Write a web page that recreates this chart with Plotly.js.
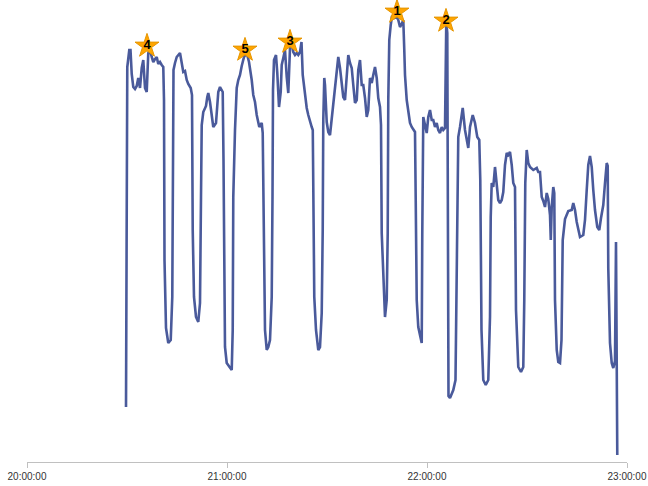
<!DOCTYPE html>
<html>
<head>
<meta charset="utf-8">
<script src="https://cdn.plot.ly/plotly-3.0.1.min.js"></script>
<style>html,body{margin:0;padding:0;background:#fff;}#chart{width:648px;height:486px;}</style>
</head>
<body>
<div id="chart"></div>
<script>
// Series: time of day and measured value
var times = [
"20:29:42","20:29:51","20:30:05","20:30:41","20:31:03","20:31:25","20:31:53","20:32:24","20:32:55","20:33:23",
"20:33:54","20:34:25","20:34:53","20:35:24","20:35:55","20:36:23","20:36:54","20:37:25","20:37:53","20:38:24",
"20:38:55","20:39:23","20:39:54","20:40:25","20:40:53","20:41:06","20:41:15","20:41:42","20:42:23","20:43:07",
"20:43:35","20:43:48","20:43:57","20:44:24","20:44:55","20:45:54","20:46:25","20:46:53","20:47:24","20:47:55",
"20:48:23","20:49:07","20:49:30","20:49:43","20:50:06","20:50:42","20:51:23","20:51:54","20:52:12","20:52:25",
"20:52:53","20:53:42","20:54:05","20:54:23","20:54:54","20:55:25","20:55:53","20:56:42","20:57:23","20:57:54",
"20:58:43","20:58:57","20:59:10","20:59:24","20:59:55","21:00:54","21:01:25","21:01:43","21:01:53","21:02:24",
"21:02:55","21:03:23","21:03:54","21:04:25","21:05:06","21:05:55","21:06:36","21:07:25","21:07:53","21:08:24",
"21:08:55","21:09:41","21:10:25","21:10:43","21:10:53","21:11:06","21:11:24","21:11:55","21:12:23","21:12:54",
"21:13:25","21:13:39","21:13:48","21:14:06","21:14:42","21:15:05","21:15:36","21:16:07","21:16:25","21:16:53",
"21:17:24","21:17:55","21:18:23","21:18:54","21:19:25","21:19:53","21:20:24","21:20:55","21:21:23","21:21:54",
"21:22:21","21:22:43","21:23:24","21:23:55","21:24:23","21:24:54","21:25:25","21:25:44","21:25:53","21:26:11",
"21:26:42","21:27:23","21:27:54","21:28:25","21:28:43","21:28:53","21:29:11","21:29:24","21:29:55","21:30:23",
"21:30:54","21:31:25","21:31:53","21:32:24","21:32:55","21:33:23","21:33:54","21:34:25","21:34:53","21:35:24",
"21:35:55","21:36:23","21:36:54","21:37:25","21:37:53","21:38:24","21:38:55","21:39:23","21:39:54","21:40:25",
"21:40:53","21:41:24","21:41:55","21:42:23","21:42:54","21:43:25","21:43:53","21:44:24","21:44:55","21:45:23",
"21:45:54","21:46:12","21:46:25","21:46:53","21:47:24","21:47:55","21:48:13","21:48:23","21:48:41","21:49:07",
"21:49:30","21:50:11","21:50:55","21:51:23","21:51:54","21:52:25","21:52:53","21:53:11","21:53:24","21:53:55",
"21:54:23","21:54:54","21:55:25","21:55:53","21:56:24","21:56:37","21:56:55","21:57:23","21:57:54","21:58:25",
"21:58:35","21:58:53","21:59:24","21:59:55","22:00:23","22:00:54","22:01:25","22:01:53","22:02:24","22:02:55",
"22:03:23","22:03:54","22:04:25","22:04:53","22:05:24","22:05:38","22:05:47","22:06:05","22:06:18","22:06:27",
"22:06:54","22:07:53","22:08:33","22:08:51","22:09:09","22:09:23","22:09:54","22:10:43","22:11:24","22:11:55",
"22:12:23","22:12:54","22:13:43","22:14:24","22:15:05","22:15:41","22:15:59","22:16:21","22:16:53","22:17:37",
"22:18:23","22:18:54","22:19:07","22:19:25","22:19:53","22:20:24","22:20:55","22:21:23","22:21:54","22:22:25",
"22:22:53","22:23:24","22:23:55","22:24:23","22:24:54","22:25:25","22:25:53","22:26:24","22:26:42","22:27:23",
"22:28:12","22:28:53","22:29:11","22:29:29","22:29:55","22:30:23","22:30:54","22:31:53","22:32:55","22:33:23",
"22:33:54","22:34:25","22:34:53","22:35:24","22:35:55","22:36:23","22:36:54","22:37:08","22:37:25","22:37:53",
"22:38:11","22:38:24","22:38:55","22:39:23","22:39:54","22:40:21","22:40:43","22:41:24","22:42:23","22:43:25",
"22:43:53","22:44:24","22:44:55","22:45:23","22:45:54","22:46:53","22:47:24","22:47:55","22:48:23","22:48:54",
"22:49:25","22:49:53","22:50:24","22:51:05","22:51:41","22:52:12","22:52:53","22:53:24","22:53:55","22:54:13",
"22:54:23","22:54:54","22:55:25","22:55:53","22:56:24","22:56:42","22:56:55","22:57:05"
];
var values = [
55,212,395,412,412,388,375,373,376,384,
374,394,402,374,370,409,412,405,400,403,
405,398,400,397,395,362,202,134,119,122,
165,297,392,399,405,409,397,390,391,382,
378,374,367,232,165,145,140,159,265,337,
350,356,365,369,360,344,335,339,370,375,
370,302,165,115,99,95,92,132,265,332,
374,382,387,396,405,409,400,382,367,360,
347,335,339,329,265,165,132,112,115,122,
165,265,372,402,407,389,355,370,397,404,
412,385,369,414,420,410,407,409,407,410,
420,387,364,354,347,340,335,332,232,165,
132,112,115,149,232,342,384,377,340,330,
327,344,354,374,394,405,394,375,365,362,
382,407,399,394,377,359,362,392,402,377,
377,364,345,352,384,379,387,395,384,364,
355,337,229,179,145,162,229,362,422,437,
446,444,445,442,435,438,442,412,387,362,
349,339,335,332,330,262,162,135,127,119,
229,345,337,329,345,352,342,342,335,339,
332,329,335,332,334,402,440,429,262,66,
64,72,82,179,312,325,335,354,332,322,
314,335,347,339,325,322,282,132,82,77,
82,145,245,279,275,295,275,262,259,262,
270,297,309,307,310,297,279,275,152,95,
90,95,162,279,312,299,295,292,294,290,
290,265,261,255,269,263,247,222,255,275,
269,162,112,100,99,122,222,243,251,252,
259,252,240,231,225,227,242,272,297,306,
295,272,252,235,232,244,257,279,299,296,
194,119,99,94,101,220,102,7
];

// Ranked peaks (star markers)
var peakTimes = ["21:51:00","22:05:42","21:18:54","20:36:00","21:05:24"];
var peakValues = [450,441,420,416,412];
var peakLabels = ["1","2","3","4","5"];

var tickLabels = ["20:00:00","21:00:00","22:00:00","23:00:00"];

var DAY = "2024-01-01 ";
function d(t){ return DAY + t; }

var lineTrace = {
  x: times.map(d), y: values, type: "scatter", mode: "lines",
  line: {color: "#4a5a9b", width: 2.6}, hoverinfo: "x+y", showlegend: false
};
var starTrace = {
  x: peakTimes.map(d), y: peakValues, type: "scatter", mode: "markers+text",
  text: peakLabels.map(function(s){ return "<b>" + s + "</b>"; }), textposition: "middle center",
  textfont: {family: "Liberation Sans, Arial, sans-serif", size: 13, color: "#000"},
  marker: {symbol: "star", size: 18, color: "#FFA500", line: {color: "#E69500", width: 1}},
  showlegend: false, cliponaxis: false
};

var layout = {
  width: 648, height: 486,
  margin: {l: 27, r: 21, t: 10, b: 24},
  paper_bgcolor: "#fff", plot_bgcolor: "#fff",
  showlegend: false,
  xaxis: {
    type: "date",
    range: [d(tickLabels[0]), d(tickLabels[3])],
    tickmode: "array",
    tickvals: tickLabels.map(d),
    ticktext: tickLabels,
    ticks: "outside", ticklen: 5, tickcolor: "#c0c0c0", tickwidth: 1,
    showline: true, linecolor: "#c0c0c0", linewidth: 1,
    showgrid: false, zeroline: false,
    tickfont: {family: "Liberation Sans, Arial, sans-serif", size: 10, color: "#333"}
  },
  yaxis: {
    range: [0, 452], visible: false, showgrid: false, zeroline: false, fixedrange: true
  }
};

Plotly.newPlot("chart", [lineTrace, starTrace], layout, {staticPlot: true, displayModeBar: false});
</script>
</body>
</html>
